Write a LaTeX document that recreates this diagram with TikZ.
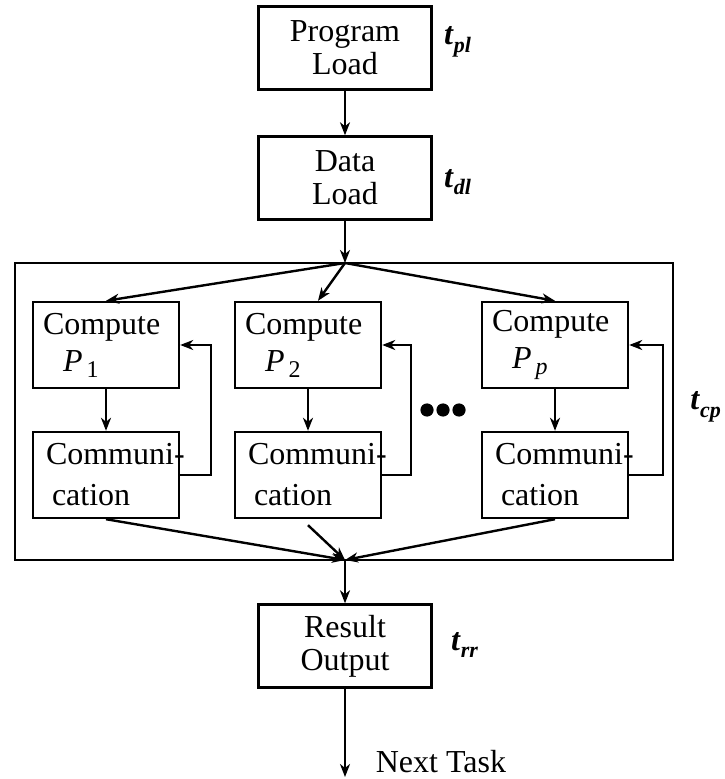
\documentclass[tikz,border=0pt]{standalone}
\usepackage{fontspec}
\setmainfont{Liberation Serif}
\usetikzlibrary{arrows.meta}
\newcommand{\tlab}[1]{\textbf{\textit{t}}\raisebox{-.5ex}{\fontsize{11}{11}\selectfont\bfseries\itshape #1}}
\newcommand{\proc}[1]{\textit{P}\kern2pt\raisebox{-.4ex}{\fontsize{12}{12}\selectfont #1}}

\begin{document}
\begin{tikzpicture}[x=.5pt,y=-.5pt,line width=1.2pt,font=\fontsize{16}{16.5}\selectfont,
  >={Stealth[length=6.5pt,width=5pt,inset=2pt]},
  stage/.style={draw,align=center,minimum width=86.5pt,minimum height=41.5pt,inner sep=0pt},
  comp/.style={draw,align=left,text width=63pt,inner xsep=5pt,inner ysep=0pt,minimum height=43pt,font=\fontsize{16}{18.5}\selectfont},
  comm/.style={draw,align=left,text width=60pt,inner xsep=6.5pt,inner ysep=0pt,minimum height=43pt,font=\fontsize{16}{20.5}\selectfont},
  time/.style={anchor=west,inner sep=0pt}]
\useasboundingbox (0,0) rectangle (724,779);

\node[stage] (prog) at (345,48) {Program\\Load};
\node[stage] (data) at (345,178) {Data\\Load};
\node[draw,minimum width=329pt,minimum height=148.5pt,inner sep=0pt] (frame) at (344,411.5) {};
\coordinate (split) at (345,263);
\coordinate (join) at (345,560);

\node[comp] (c1) at (106,345) {Compute\\\hspace*{10pt}\proc{1}};
\node[comm] (m1) at (106,475) {Communi\rlap{-}\\\hspace*{3pt}cation};
\node[comp] (c2) at (308,345) {Compute\\\hspace*{10pt}\proc{2}};
\node[comm] (m2) at (308,475) {Communi\rlap{-}\\\hspace*{3pt}cation};
\node[comp] (cp) at (555,345) {Compute\\\hspace*{10pt}\proc{\itshape p}};
\node[comm] (mp) at (555,475) {Communi\rlap{-}\\\hspace*{3pt}cation};
\foreach \x in {427,443,459} \fill (\x,410) circle (3.3pt);

\node[stage] (res) at (345,646) {Result\\Output};
\coordinate (next) at (345,777);
\node[anchor=west] (task) at (368,762) {Next Task};

\node[time] (tpl) at (443,42) {\tlab{pl}};
\node[time] (tdl) at (443,182) {\tlab{dl}};
\node[time,anchor=east] (tcp) at (722,407) {\tlab{cp}};
\node[time] (trr) at (450,645) {\tlab{rr}};

\draw[->] (prog) -- (data);
\draw[->] (data) -- (split);
\draw[->] (split) -- (c1.north);
\draw[->] (split) -- ([xshift=5pt]c2.north);
\draw[->] (split) -- (cp.north);
\draw[->] (c1) -- (m1);
\draw[->] (c2) -- (m2);
\draw[->] (cp) -- (mp);
\draw[->] (m1.east) -- ++(31,0) |- (c1.east);
\draw[->] (m2.east) -- ++(29,0) |- (c2.east);
\draw[->] (mp.east) -- ++(34,0) |- (cp.east);
\draw[->] (m1.south) -- (join);
\draw[->] ([yshift=-3pt]m2.south) -- (join);
\draw[->] (mp.south) -- (join);
\draw[->] (join) -- (res);
\draw[->] (res) -- (next);
\end{tikzpicture}
\end{document}
